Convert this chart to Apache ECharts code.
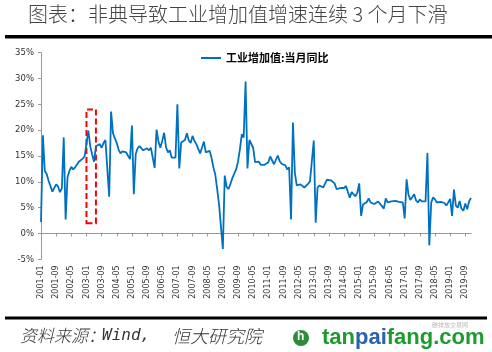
<!DOCTYPE html>
<html>
<head>
<meta charset="utf-8">
<title>非典导致工业增加值增速连续3个月下滑</title>
<script src="https://cdn.jsdelivr.net/npm/echarts@6/dist/echarts.min.js"></script>
</head>
<body style="margin:0">
<div id="container" style="width:492px;height:352px"></div>
<script>
    // 工业增加值:当月同比 (%)，2001-01 ~ 2019-12，按年分组
    var v2001 = [2.2, 19.0, 12.1, 11.5, 10.2, 10.1, 8.1, 8.1, 9.5, 9.1, 8.0, 8.7];
    var v2002 = [18.6, 2.7, 10.9, 12.1, 12.9, 12.4, 12.8, 12.7, 13.9, 14.2, 14.5, 14.9];
    var v2003 = [15.1, 19.9, 16.9, 15.3, 13.9, 16.9, 16.7, 17.3, 16.6, 17.5, 18.1, 18.3];
    var v2004 = [7.1, 23.6, 19.4, 19.1, 17.5, 16.2, 15.5, 15.9, 16.1, 15.7, 15.0, 14.4];
    var v2005 = [20.9, 7.6, 15.4, 16.5, 16.9, 16.8, 16.1, 16.0, 16.5, 16.1, 16.6, 16.5];
    var v2006 = [12.7, 20.1, 17.8, 16.6, 17.9, 19.5, 16.7, 15.7, 16.1, 14.7, 14.9, 14.7];
    var v2007 = [25.0, 12.6, 17.6, 17.4, 18.1, 19.4, 18.0, 17.5, 18.9, 17.9, 17.3, 17.4];
    var v2008 = [15.5, 15.4, 17.8, 15.7, 16.0, 16.0, 14.7, 12.8, 11.4, 8.6, 5.6, 5.7];
    var v2009 = [-3.0, 11.2, 9.0, 8.6, 9.6, 10.7, 10.9, 12.4, 13.9, 16.3, 19.2, 18.6];
    var v2010 = [29.4, 12.6, 18.1, 17.8, 16.6, 13.8, 13.5, 13.9, 13.3, 13.1, 13.3, 13.5];
    var v2011 = [13.8, 14.9, 14.8, 13.4, 13.3, 15.1, 14.0, 13.5, 13.8, 13.2, 12.4, 12.8];
    var v2012 = [2.7, 21.5, 11.8, 9.3, 9.6, 9.5, 9.2, 8.9, 9.2, 9.6, 10.1, 10.3];
    var v2013 = [18.0, 2.1, 8.9, 9.3, 9.2, 8.9, 9.7, 10.4, 10.2, 10.3, 10.0, 9.7];
    var v2014 = [8.6, 8.6, 8.8, 8.7, 8.8, 9.2, 9.0, 6.9, 8.0, 7.7, 7.2, 7.9];
    var v2015 = [9.7, 3.4, 5.6, 5.9, 6.1, 6.8, 6.0, 6.1, 5.7, 5.6, 6.2, 5.9];
    var v2016 = [5.3, 4.8, 6.8, 6.0, 6.0, 6.2, 6.0, 6.3, 6.1, 6.1, 6.2, 6.0];
    var v2017 = [2.9, 10.5, 7.5, 6.5, 6.5, 7.6, 6.4, 6.0, 6.6, 6.2, 6.1, 6.2];
    var v2018 = [15.6, -2.3, 6.0, 7.0, 6.6, 6.0, 6.0, 6.1, 5.8, 5.9, 5.4, 5.7];
    var v2019 = [6.7, 3.4, 8.5, 5.4, 5.0, 6.3, 4.8, 4.4, 5.8, 4.7, 6.2, 6.9];

    var yearValues = [v2001, v2002, v2003, v2004, v2005, v2006, v2007, v2008, v2009, v2010,
        v2011, v2012, v2013, v2014, v2015, v2016, v2017, v2018, v2019];
    var firstYear = 2001;

    // 非典时期标注框：起止月份和数值范围
    var sarsBox = ['2003-01', '2003-06', 2, 24];

    var seriesName = '工业增加值:当月同比';

    // 月份类目
    var months = [];
    var values = [];
    for (var i = 0; i < yearValues.length; i++) {
        for (var m = 1; m <= 12; m++) {
            months.push((firstYear + i) + '-' + (m < 10 ? '0' + m : m));
            values.push(yearValues[i][m - 1]);
        }
    }

    var myChart = echarts.init(document.getElementById('container'));

    var option = {
        backgroundColor: '#fff',
        animation: false,
        grid: {
            left: 41,
            right: 21,
            top: 52.7,
            bottom: 92.7
        },
        legend: {
            data: [seriesName],
            icon: 'rect',
            left: 196,
            top: 47,
            itemWidth: 20,
            itemHeight: 2,
            textStyle: {
                fontSize: 11,
                fontWeight: 'bold',
                color: '#000',
                lineHeight: 12,
                fontFamily: 'Noto Sans CJK SC'
            }
        },
        xAxis: {
            type: 'category',
            boundaryGap: false,
            data: months,
            axisLine: {lineStyle: {color: '#999'}},
            axisTick: {interval: 7, length: 3, lineStyle: {color: '#999'}},
            axisLabel: {
                interval: 7,
                rotate: 90,
                fontSize: 8,
                color: '#333',
                margin: 6,
                fontFamily: 'DejaVu Sans'
            },
            splitLine: {show: false}
        },
        yAxis: {
            type: 'value',
            min: -5,
            max: 35,
            interval: 5,
            axisLine: {show: true, lineStyle: {color: '#999'}},
            axisTick: {show: true, length: 3, lineStyle: {color: '#999'}},
            axisLabel: {
                formatter: '{value}%',
                fontSize: 8.5,
                color: '#333',
                margin: 7,
                fontFamily: 'DejaVu Sans'
            },
            splitLine: {show: false}
        },
        series: [
            {
                name: seriesName,
                type: 'line',
                data: values,
                symbol: 'none',
                lineStyle: {color: '#0070C0', width: 1.8},
                itemStyle: {color: '#0070C0'},
                markArea: {
                    silent: true,
                    label: {show: false},
                    itemStyle: {
                        color: 'rgba(0,0,0,0)',
                        borderColor: '#ff0000',
                        borderWidth: 2,
                        borderType: [6, 3]
                    },
                    data: [[
                        {xAxis: sarsBox[0], yAxis: sarsBox[2]},
                        {xAxis: sarsBox[1], yAxis: sarsBox[3]}
                    ]]
                }
            }
        ],
        graphic: [
            {
                type: 'text', left: 28, top: 4,
                style: {
                    text: '图表：非典导致工业增加值增速连续 3 个月下滑',
                    fontSize: 20, fontWeight: 300, fill: '#444', fontFamily: 'Noto Sans CJK SC'
                }
            },
            {type: 'rect', shape: {x: 5, y: 35, width: 487, height: 3.5}, style: {fill: '#000'}},
            {type: 'rect', shape: {x: 5, y: 316.5, width: 482, height: 3}, style: {fill: '#000'}},
            {
                type: 'text', left: 20, top: 327,
                style: {
                    text: '资料来源：', fontSize: 17, fontStyle: 'italic', fontWeight: 300,
                    fill: '#333', fontFamily: 'Noto Sans CJK SC'
                }
            },
            {
                type: 'text', left: 102, top: 328,
                style: {
                    text: 'Wind,', fontSize: 16, fontStyle: 'italic',
                    fill: '#333', fontFamily: 'DejaVu Sans Mono'
                }
            },
            {
                type: 'text', left: 172, top: 327,
                style: {
                    text: '恒大研究院', fontSize: 18, fontStyle: 'italic', fontWeight: 300,
                    fill: '#333', fontFamily: 'Noto Sans CJK SC'
                }
            },
            {type: 'circle', shape: {cx: 301, cy: 338, r: 8}, style: {fill: '#2e8b3a'}},
            {
                type: 'text', left: 297, top: 331,
                style: {text: 'h', fontSize: 12, fontWeight: 'bold', fill: '#fff', fontFamily: 'Liberation Sans'}
            },
            {
                type: 'text', left: 322, top: 327,
                style: {
                    text: '{g|tan}{b|pai}{g|fang.com}',
                    rich: {
                        g: {fontSize: 22, fontWeight: 'bold', fill: '#1e9a2e', fontFamily: 'Liberation Sans'},
                        b: {fontSize: 22, fontWeight: 'bold', fill: '#2b62b0', fontFamily: 'Liberation Sans'}
                    }
                }
            },
            {
                type: 'text', left: 432, top: 322,
                style: {text: '碳排放交易网', fontSize: 6, fill: '#bbb', fontFamily: 'Noto Sans CJK SC'}
            }
        ]
    };

    myChart.setOption(option, true);
</script>
</body>
</html>
